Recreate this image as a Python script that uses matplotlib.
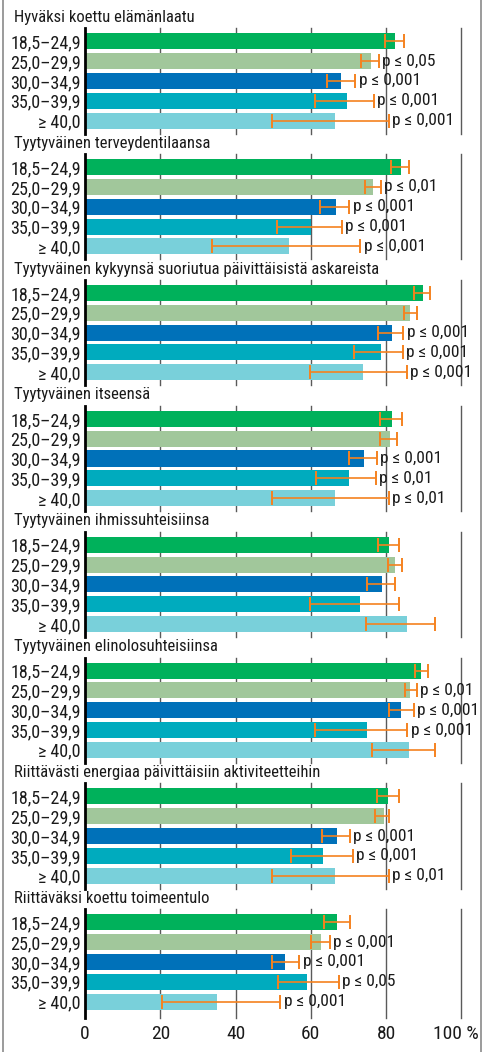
import matplotlib
matplotlib.use("Agg")
import matplotlib.pyplot as plt
import matplotlib.transforms as mtrans
from matplotlib.lines import Line2D

plt.rcParams['font.family'] = ['Roboto Condensed', 'DejaVu Sans']

titles = [
    "Hyväksi koettu elämänlaatu",
    "Tyytyväinen terveydentilaansa",
    "Tyytyväinen kykyynsä suoriutua päivittäisistä askareista",
    "Tyytyväinen itseensä",
    "Tyytyväinen ihmissuhteisiinsa",
    "Tyytyväinen elinolosuhteisiinsa",
    "Riittävästi energiaa päivittäisiin aktiviteetteihin",
    "Riittäväksi koettu toimeentulo",
]
categories = ["18,5–24,9", "25,0–29,9", "30,0–34,9", "35,0–39,9", "≥ 40,0"]

values = [
    [82.4, 76.0, 68.0, 69.6, 66.4],
    [84.0, 76.5, 66.6, 60.0, 54.2],
    [89.7, 86.3, 81.6, 78.6, 73.8],
    [81.5, 81.0, 74.1, 70.1, 66.4],
    [80.7, 82.3, 78.8, 73.0, 85.5],
    [89.2, 86.5, 83.9, 74.9, 86.0],
    [80.4, 79.4, 66.9, 63.2, 66.4],
    [66.9, 62.7, 53.1, 58.9, 35.0],
]
ci_low = [
    [79.7, 73.4, 64.3, 61.2, 49.7],
    [81.2, 74.4, 62.5, 51.0, 33.8],
    [87.3, 84.8, 77.9, 71.4, 59.8],
    [78.4, 78.4, 70.2, 61.3, 49.7],
    [77.8, 80.4, 74.9, 59.8, 74.7],
    [87.6, 85.0, 80.7, 61.1, 76.2],
    [77.5, 77.1, 63.0, 54.8, 49.7],
    [63.5, 60.0, 49.7, 51.3, 20.4],
]
ci_high = [
    [84.8, 78.1, 71.8, 76.8, 80.7],
    [86.1, 78.6, 70.2, 68.3, 73.1],
    [91.8, 88.2, 84.6, 84.4, 85.5],
    [84.3, 82.8, 77.5, 77.3, 80.7],
    [83.5, 84.2, 82.4, 83.5, 93.0],
    [91.2, 88.1, 87.3, 85.6, 93.0],
    [83.5, 80.8, 70.4, 71.2, 80.7],
    [70.4, 65.1, 56.9, 67.5, 51.9],
]
p_labels = [
    ["", "p ≤ 0,05", "p ≤ 0,001", "p ≤ 0,001", "p ≤ 0,001"],
    ["", "p ≤ 0,01", "p ≤ 0,001", "p ≤ 0,001", "p ≤ 0,001"],
    ["", "", "p ≤ 0,001", "p ≤ 0,001", "p ≤ 0,001"],
    ["", "", "p ≤ 0,001", "p ≤ 0,01", "p ≤ 0,01"],
    ["", "", "", "", ""],
    ["", "p ≤ 0,01", "p ≤ 0,001", "p ≤ 0,001", ""],
    ["", "", "p ≤ 0,001", "p ≤ 0,001", "p ≤ 0,01"],
    ["", "p ≤ 0,001", "p ≤ 0,001", "p ≤ 0,05", "p ≤ 0,001"],
]
xticks = [0, 20, 40, 60, 80]
xtick_labels = ["0", "20", "40", "60", "80"]
last_tick_label = "100 %"
gridlines = [20, 40, 60, 80, 100]

bar_colors = ["#00b15b", "#a1c79b", "#0071b9", "#00abbe", "#79d0da"]
err_color = "#f5821f"
text_color = "#1a1a1a"

W, H = 484, 1052
fig = plt.figure(figsize=(W / 100, H / 100), dpi=100)

x0, x1 = 85, 461.3
first_top = 33.3
panel_pitch = 125.86
row = 19.8
bar_h = 0.81

for k in range(8):
    bar1_top = first_top + panel_pitch * k
    ylo = -bar_h / 2 - 5 / row
    yhi = 4 + bar_h / 2 + (8 if k == 7 else 5) / row
    ax_top = bar1_top - 5
    ax_h = (yhi - ylo) * row
    ax = fig.add_axes([x0 / W, 1 - (ax_top + ax_h) / H, (x1 - x0) / W, ax_h / H])
    ax.set_xlim(0, 100)
    ax.set_ylim(yhi, ylo)
    for g in gridlines:
        ax.axvline(g, color="#5a5a5a", lw=1.0, zorder=0, clip_on=False)
    ypos = list(range(5))
    ax.barh(ypos, values[k], height=bar_h, color=bar_colors, zorder=2)
    for i in range(5):
        ax.errorbar(values[k][i], i,
                    xerr=[[values[k][i] - ci_low[k][i]], [ci_high[k][i] - values[k][i]]],
                    fmt="none", ecolor=err_color, elinewidth=1.2, capsize=5.0,
                    capthick=1.4, zorder=3)
        if p_labels[k][i]:
            ax.annotate(p_labels[k][i], (ci_high[k][i], i), xytext=(2.5, 0),
                        textcoords="offset points", ha="left", va="center",
                        fontsize=12.5, color=text_color, zorder=4)
    ax.set_yticks(ypos)
    ax.set_yticklabels(categories, fontsize=13, color=text_color)
    ax.tick_params(axis="y", length=0, pad=3)
    for s in ["top", "right", "bottom"]:
        ax.spines[s].set_visible(False)
    ax.spines["left"].set_color("black")
    ax.spines["left"].set_linewidth(2.0)
    ax.spines["left"].set_zorder(5)
    ax.patch.set_alpha(0)
    if k == 7:
        ax.set_xticks(xticks)
        ax.set_xticklabels(xtick_labels, fontsize=14, color=text_color)
        ax.tick_params(axis="x", length=0, pad=5)
        off = mtrans.ScaledTranslation(0, -5 / 72, fig.dpi_scale_trans)
        ax.text(98.6, yhi, last_tick_label, ha="center", va="top", fontsize=14,
                color=text_color, transform=ax.transData + off)
    else:
        ax.set_xticks([])
    fig.text(14 / W, 1 - (bar1_top - 16) / H, titles[k], ha="left", va="center",
             fontsize=12, color=text_color)

# outer frame (left and right)
fig.add_artist(Line2D([2.5 / W, 2.5 / W], [0, 1], color="#8a8a8a", lw=1.2))
fig.add_artist(Line2D([480.5 / W, 480.5 / W], [0, 1], color="#8a8a8a", lw=1.2))

fig.savefig("out.png", dpi=100)
